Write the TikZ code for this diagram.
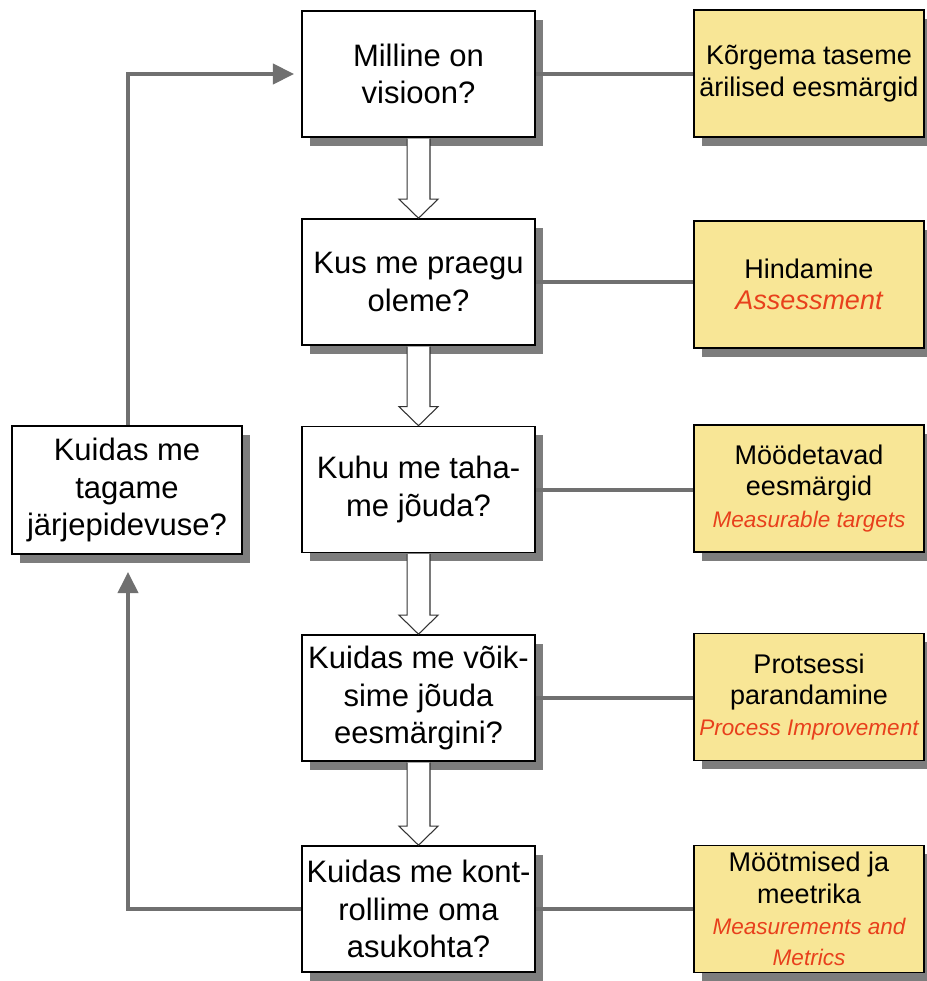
\documentclass[tikz,border=0pt]{standalone}
\usepackage{fontspec}
\setmainfont{Liberation Sans}
\usetikzlibrary{shadows,arrows.meta,calc}
\definecolor{boxyellow}{RGB}{248,230,150}
\definecolor{linegray}{RGB}{112,112,112}
\definecolor{shadowgray}{RGB}{125,125,125}
\definecolor{notered}{RGB}{232,64,28}
\newcommand\engl[1]{{\color{notered}\itshape #1}}
\newcommand\smallred{\fontsize{16.9}{19.5}\selectfont\color{notered}\itshape}
% open block arrow from the bottom of one box to the top of the next
\newcommand\blockdown[2]{%
  \draw[hollow] let \p1=(#1.south), \p2=(#2.north) in
    (\x1-8.6pt,\y1-0.6pt) -- (\x1-8.6pt,\y2+14.25pt) -- (\x1-14.6pt,\y2+14.25pt)
    -- (\x1,\y2) -- (\x1+14.6pt,\y2+14.25pt) -- (\x1+8.6pt,\y2+14.25pt)
    -- (\x1+8.6pt,\y1-0.6pt);}
\tikzset{
  qbox/.style={draw=black, line width=1.2pt, fill=white, inner sep=0pt,
    minimum width=174.75pt, minimum height=94.5pt, align=center,
    font=\fontsize{23.25}{28}\selectfont,
    drop shadow={shadow xshift=6pt, shadow yshift=-6.5pt, fill=shadowgray, opacity=1}},
  abox/.style={qbox, fill=boxyellow, minimum width=172.5pt, minimum height=95.25pt,
    font=\fontsize{20.25}{23.5}\selectfont},
  link/.style={draw=linegray, line width=3pt},
  looptip/.style={-{Triangle[length=16pt,width=15pt]}},
  hollow/.style={draw=black!80, line width=0.8pt, fill=white}
}
\begin{document}
\begin{tikzpicture}[x=0.75pt,y=-0.75pt]
\useasboundingbox (0,0) rectangle (927,981);

% question column
\node[qbox] (c1) at (418.5,74)  {Milline on\\visioon?};
\node[qbox] (c2) at (418.5,282) {Kus me praegu\\oleme?};
\node[qbox] (c3) at (418.5,489.5) {Kuhu me taha-\\me jõuda?};
\node[qbox] (c4) at (418.5,698) {Kuidas me võik-\\sime jõuda\\eesmärgini?};
\node[qbox] (c5) at (418.5,909) {Kuidas me kont-\\rollime oma\\asukohta?};

% continuity box on the left
\node[qbox, minimum width=172.5pt, minimum height=96pt] (L) at (127,490)
  {Kuidas me\\tagame\\järjepidevuse?};

% answer column
\node[abox] (r1) at (809,73.5)  {Kõrgema taseme\\ärilised eesmärgid};
\node[abox] (r2) at (809,284.5) {Hindamine\\\engl{Assessment}};
\node[abox] (r3) at (809,488.5) {Möödetavad\\eesmärgid\\\smallred Measurable targets};
\node[abox] (r4) at (809,697)   {Protsessi\\parandamine\\\smallred Process Improvement};
\node[abox] (r5) at (809,909)   {Möötmised ja\\meetrika\\\smallred Measurements and\\\smallred Metrics};

% links to the answers
\foreach \i in {1,...,5}
  \draw[link] (c\i.east) -- (c\i.east -| r\i.west);

% block arrows down the column
\blockdown{c1}{c2}
\blockdown{c2}{c3}
\blockdown{c3}{c4}
\blockdown{c4}{c5}

% feedback loop
\draw[link, looptip] (c5.west) -| ($(L.south)+(1,17)$);
\draw[link, looptip] ($(L.north)+(1,0)$) |- ($(c1.west)+(-7,0)$);
\end{tikzpicture}
\end{document}
